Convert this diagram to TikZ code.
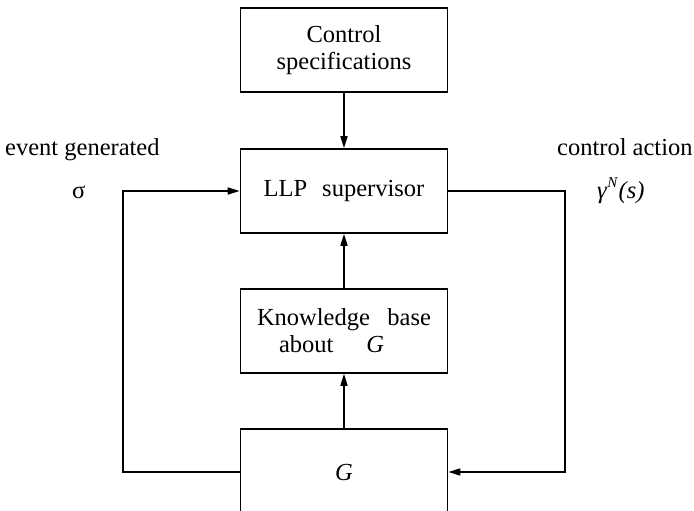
\documentclass[tikz,border=0pt]{standalone}
\usepackage{fontspec}
\setmainfont{Liberation Serif}
\usetikzlibrary{arrows.meta}
\begin{document}
\begin{tikzpicture}[x=1pt,y=-1pt,
  box/.style={draw,line width=1.6pt,minimum width=207pt,minimum height=84pt,inner sep=0pt,
    font=\fontsize{24.5}{27}\selectfont},
  conn/.style={line width=1.6pt},
  arr/.style={conn,-{Triangle[length=12pt,width=7pt]}},
  lbl/.style={inner sep=0pt,anchor=base west,font=\fontsize{24.5}{27}\selectfont}]
\useasboundingbox (0,0) rectangle (694,511);
\clip (0,0) rectangle (694,511);
\node[box,align=center] (cs) at (344,50) {Control\\specifications};
\node[box] (llp) at (344,191) {LLP\hspace{15pt}supervisor};
\node[box,align=left] (kb) at (344,331) {Knowledge\hspace{17.5pt}base\\\hspace*{22pt}about\hspace{33pt}\textit{G}};
\node[box,minimum height=86pt] (g) at (344,472) {\textit{G}};
\node[lbl] (ev) at (5,155) {event generated};
\node[lbl] (sig) at (72,198) {σ};
\node[lbl] (ca) at (557,155) {control action};
\node[lbl] (gam) at (597,198) {\textit{γ}\raisebox{11pt}{\fontsize{15}{15}\selectfont\textit{N}}\kern0.5pt\textit{(s)}};
\coordinate (lc) at (123,191);
\coordinate (rc) at (565,191);
\draw[arr] (cs.south) -- (llp.north);
\draw[arr] (kb.north) -- (llp.south);
\draw[arr] (g.north) -- (kb.south);
\draw[arr] (g.west) -| (lc) -- (llp.west);
\draw[arr] (llp.east) -- (rc) |- (g.east);
\end{tikzpicture}
\end{document}
